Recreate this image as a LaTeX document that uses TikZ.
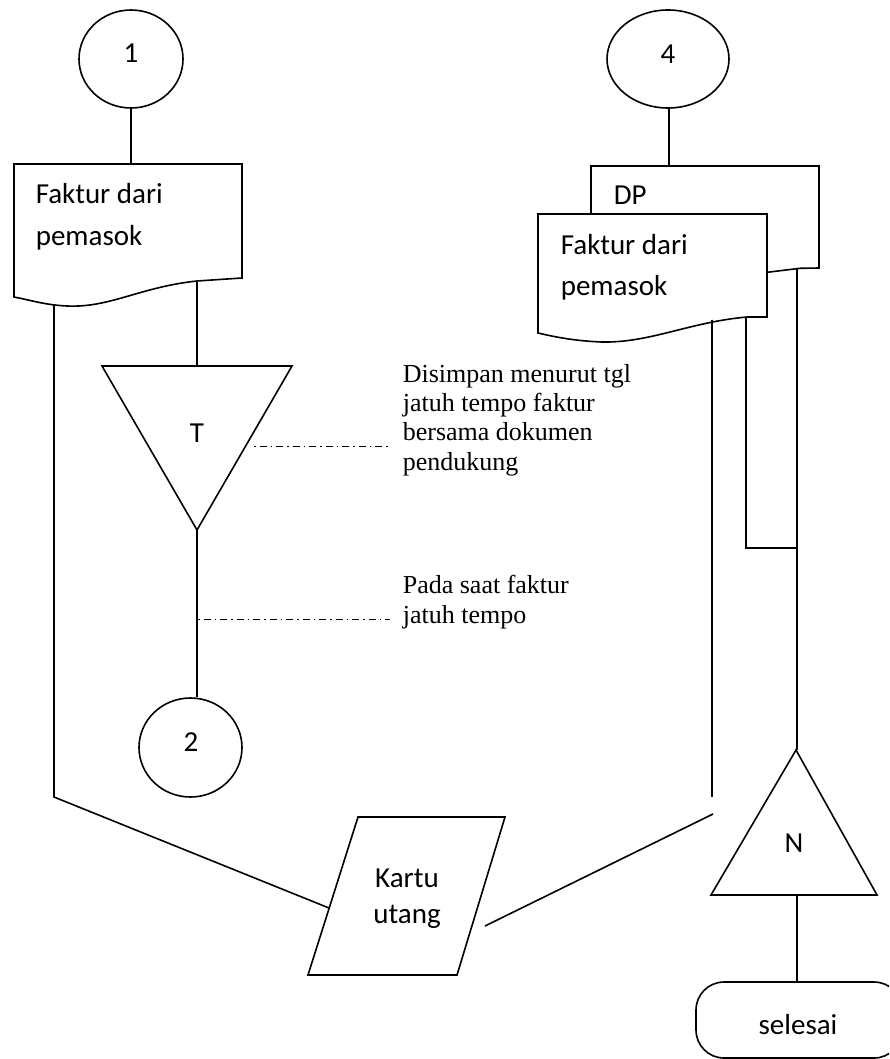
\documentclass[tikz,border=0pt]{standalone}
\usepackage{fontspec}
\setmainfont{Carlito}
\newfontfamily\ser{Liberation Serif}
\usetikzlibrary{shapes.geometric,shapes.misc}
\begin{document}
\begin{tikzpicture}[x=1pt,y=-1pt,line width=1.6pt,
  lbl/.style={font=\fontsize{29}{41}\selectfont,inner sep=0},
  doctext/.style={font=\fontsize{29}{41}\selectfont,inner sep=0,align=left,anchor=base west},
  note/.style={font=\ser\fontsize{26}{29.3}\selectfont,align=left,inner sep=0,anchor=base west},
  ddot/.style={line width=1pt,dash pattern=on 1.5pt off 4pt on 7pt off 4pt},
  circ/.style={draw,ellipse,inner sep=0}]
\useasboundingbox (0,0) rectangle (889,1059);
\clip (0,0) rectangle (889,1059);

% ---------- left column ----------
\node[circ,minimum width=104pt,minimum height=98pt] (c1) at (131,59) {};
\node[lbl] (c1t) at (131,53) {1};

\coordinate (d1top) at (131,164);
\coordinate (d1out) at (197,281);
\coordinate (d1left) at (54,304);
\draw[fill=white] (14,164) -- (242,164) -- (242,278) -- (d1out)
  .. controls (140,287) and (110,308) .. (67,306)
  .. controls (45,305) and (30,300) .. (14,297) -- cycle;
\node[doctext] (d1t) at (35,245) {Faktur dari\\pemasok};
\draw (c1.south) -- (d1top);

\coordinate (Ttl) at (102,366);
\coordinate (Ttr) at (292,366);
\coordinate (Tap) at (197,530);
\coordinate (Tin) at (197,366);
\draw (Ttl) -- (Ttr) -- (Tap) -- cycle;
\node[lbl] (Tt) at (197,433) {T};
\draw (d1out) -- (Tin);

\coordinate (n1a) at (254,446);
\coordinate (n1b) at (390,446);
\draw[ddot] (n1a) -- (n1b);

\node[circ,minimum width=103pt,minimum height=99pt] (c2) at (190.5,747.5) {};
\node[lbl] (c2t) at (191,742) {2};
\draw (Tap) -- (Tap |- c2.north);

\coordinate (n2a) at (198,619);
\coordinate (n2b) at (390,619);
\draw[ddot] (n2a) -- (n2b);

% ---------- Kartu utang ----------
\coordinate (kTL) at (358,817);
\coordinate (kTR) at (505,817);
\coordinate (kBR) at (457,975);
\coordinate (kBL) at (308,975);
\draw (kTL) -- (kTR) -- (kBR) -- (kBL) -- cycle;
\node[lbl,align=center,anchor=base,font=\fontsize{29}{36}\selectfont] (kt) at (407,923) {Kartu\\utang};
\coordinate (kin1) at (329,908);
\coordinate (kin2) at (485,926);
\coordinate (lcorner) at (54,797);
\draw (d1left) -- (lcorner) -- (kin1);

% ---------- right column ----------
\node[circ,minimum width=122pt,minimum height=98pt] (c4) at (668,59) {};
\node[lbl] (c4t) at (668,54) {4};
\coordinate (dptop) at (669,166);
\draw (c4.south -| dptop) -- (dptop);

\coordinate (dpout) at (797,268.5);
\draw[fill=white] (591,166) -- (819,166) -- (819,268) -- (800,268.3)
  .. controls (720,278) .. (650,292) -- (591,285) -- cycle;
\node[doctext] (dpt) at (613,205) {DP};

\draw[fill=white] (538,214) -- (767,214) -- (767,317) -- (747,317)
  .. controls (690,322) and (650,343) .. (602,342)
  .. controls (575,341) and (555,337) .. (538,333) -- cycle;
\node[doctext] (d2t) at (560,295) {Faktur dari\\pemasok};

\node[note] (n1) at (402,470) {Disimpan menurut tgl\\jatuh tempo faktur\\bersama dokumen\\pendukung};
\node[note] (n2) at (402,623) {Pada saat faktur\\jatuh tempo};

\coordinate (o1) at (712,319.5);
\coordinate (o1end) at (712,797);
\coordinate (o2) at (746,317);
\coordinate (o2c) at (746,548);
\coordinate (o2d) at (797,548);
\draw (o1) -- (o1end);
\draw (o2) -- (o2c) -- (o2d);

\coordinate (kout) at (713,814);
\draw (kin2) -- (kout);

\coordinate (Nap) at (796,750);
\coordinate (Nbl) at (711,895);
\coordinate (Nbr) at (877,895);
\coordinate (Nb) at (797,895);
\draw (Nap) -- (Nbr) -- (Nbl) -- cycle;
\node[lbl] (Nt) at (794,843) {N};
\draw (dpout) -- (797,750);

\node[draw,rectangle,rounded corners=28pt,minimum width=206pt,minimum height=76pt,inner sep=0] (end) at (799,1020) {};
\node[lbl] (endt) at (798,1025) {selesai};
\draw (Nb) -- (Nb |- end.north);
\end{tikzpicture}
\end{document}
